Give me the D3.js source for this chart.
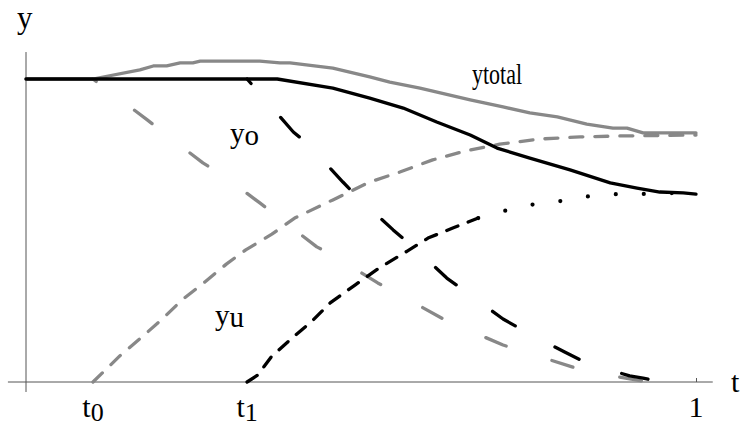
<!DOCTYPE html>
<html>
<head>
<meta charset="utf-8">
<script src="https://cdn.jsdelivr.net/npm/d3@7"></script>
<style>
body { margin: 0; background: #fff; }
text { font-family: "Liberation Serif", "Times New Roman", serif; fill: #000; }
</style>
</head>
<body>
<svg id="chart" width="740" height="430"></svg>
<script>
// switch times on the t axis
const tZero = 0.1
const tOne = 0.33

// x tick labels: [t, main, subscript]
const tickLabels = [[tZero, 't', '0'], [tOne, 't', '1'], [1, '1', '']]

// gray solid: ytotal
const yTotalGray = [[0, 1], [0.1, 1], [0.17, 1.03], [0.19, 1.043], [0.21, 1.043], [0.23, 1.053],
  [0.249, 1.053], [0.26, 1.059], [0.349, 1.059], [0.379, 1.053], [0.394, 1.053], [0.458, 1.036],
  [0.513, 1.007], [0.543, 0.99], [0.588, 0.97], [0.663, 0.931], [0.712, 0.908], [0.752, 0.888],
  [0.793, 0.875], [0.837, 0.851], [0.876, 0.838], [0.897, 0.838], [0.921, 0.822], [0.936, 0.822], [1, 0.822]]

// black solid
const yTotalBlack = [[0, 1], [0.375, 1], [0.458, 0.97], [0.513, 0.937], [0.563, 0.904], [0.613, 0.858],
  [0.663, 0.815], [0.703, 0.772], [0.752, 0.739], [0.812, 0.7], [0.872, 0.657], [0.912, 0.64],
  [0.946, 0.627], [0.981, 0.624], [1, 0.62]]

// gray yo (falls from t0)
const yOGray = [[0.1, 1], [0.181, 0.865], [0.21, 0.815], [0.264, 0.723], [0.293, 0.683], [0.349, 0.591],
  [0.434, 0.446], [0.458, 0.419], [0.525, 0.327], [0.54, 0.31], [0.625, 0.205], [0.712, 0.122],
  [0.749, 0.096], [0.815, 0.05], [0.834, 0.036], [0.921, 0.003], [0.939, 0]]

// black yo (falls from t1)
const yOBlack = [[0.33, 1], [0.399, 0.825], [0.419, 0.789], [0.473, 0.66], [0.499, 0.601], [0.548, 0.502],
  [0.588, 0.426], [0.628, 0.343], [0.667, 0.281], [0.712, 0.208], [0.752, 0.158], [0.804, 0.099],
  [0.834, 0.066], [0.901, 0.02], [0.921, 0.013], [0.946, 0]]

// gray yu (rises from t0)
const yUGray = [[0.1, 0], [0.14, 0.086], [0.166, 0.135], [0.2, 0.201], [0.233, 0.271], [0.267, 0.33],
  [0.299, 0.389], [0.328, 0.436], [0.367, 0.488], [0.401, 0.541], [0.458, 0.601], [0.513, 0.66],
  [0.558, 0.693], [0.607, 0.733], [0.655, 0.762], [0.707, 0.785], [0.767, 0.802], [0.827, 0.809],
  [0.887, 0.812], [1, 0.815]]

// black yu (rises from t1)
const yUBlack = [[0.33, 0], [0.346, 0.023], [0.366, 0.083], [0.397, 0.145], [0.427, 0.201], [0.454, 0.261],
  [0.491, 0.32], [0.527, 0.376], [0.569, 0.432], [0.6, 0.475], [0.637, 0.508], [0.675, 0.541],
  [0.707, 0.561], [0.749, 0.584], [0.79, 0.594], [0.831, 0.611], [0.875, 0.62], [0.916, 0.62],
  [0.957, 0.624], [1, 0.62]]

const gray = '#888'

const svg = d3.select('svg#chart')
svg.append('rect').attr('width', 740).attr('height', 430).attr('fill', '#fff')

const x = d3.scaleLinear().domain([0, 1]).range([26, 696])
const y = d3.scaleLinear().domain([0, 1]).range([382, 79])

// axes, drawn a bit past the data like the original
const xAxis = d3.axisBottom(x).tickValues([1]).tickSizeInner(-4).tickSizeOuter(0).tickFormat('')
const gx = svg.append('g').attr('transform', `translate(0,${y(0)})`).call(xAxis)
gx.select('.domain').attr('d', `M${x(-0.027)},0H${x(1.025)}`)
gx.selectAll('path, line').attr('stroke', '#555')

const yAxis = d3.axisLeft(y).tickValues([]).tickSizeOuter(0)
const gy = svg.append('g').attr('transform', `translate(${x(0)},0)`).call(yAxis)
gy.select('.domain').attr('d', `M0,${y(1.089)}V${y(-0.033)}`).attr('stroke', '#555')

// tick labels with subscripts
tickLabels.forEach(([t, main, sub]) => {
  let txt = svg.append('text')
    .attr('x', x(t))
    .attr('y', 417)
    .attr('text-anchor', 'middle')
    .attr('font-size', 30)
  txt.append('tspan').text(main)
  if (sub) txt.append('tspan').attr('font-size', 26).attr('dy', 4).text(sub)
})

svg.append('text').attr('x', 17).attr('y', 28).attr('font-size', 31).text('y')
svg.append('text').attr('x', 731).attr('y', 392).attr('font-size', 30).text('t')

const line = d3.line().x(d => x(d[0])).y(d => y(d[1]))

function drawCurve(data, color, dash, offset, width) {
  svg.append('path')
    .datum(data)
    .attr('d', line)
    .attr('fill', 'none')
    .attr('stroke', color)
    .attr('stroke-width', width || 3.3)
    .attr('stroke-linecap', 'round')
    .attr('stroke-linejoin', 'round')
    .attr('stroke-dasharray', dash)
    .attr('stroke-dashoffset', offset || 0)
}

// gray first, black on top
drawCurve(yTotalGray, gray, null)
drawCurve(yOGray, gray, '22,48', 18)
drawCurve(yUGray, gray, '13,12')
drawCurve(yTotalBlack, '#000', null)
drawCurve(yOBlack, '#000', '27,45', 21)
// black yu turns from dashes to dots
drawCurve(yUBlack.filter(d => d[0] <= 0.675), '#000', '12,11')
drawCurve(yUBlack.filter(d => d[0] >= 0.675), '#000', '0,28', 0, 4.2)

// curve labels
svg.append('text').attr('x', 472).attr('y', 84).attr('font-size', 29)
  .attr('textLength', 50).attr('lengthAdjust', 'spacingAndGlyphs').text('ytotal')

let yo = svg.append('text').attr('x', 230).attr('y', 143).attr('font-size', 29)
yo.append('tspan').text('y')
yo.append('tspan').attr('dy', 2).text('o')

let yu = svg.append('text').attr('x', 215).attr('y', 325).attr('font-size', 29)
yu.append('tspan').text('y')
yu.append('tspan').attr('dy', 2).text('u')
</script>
</body>
</html>
